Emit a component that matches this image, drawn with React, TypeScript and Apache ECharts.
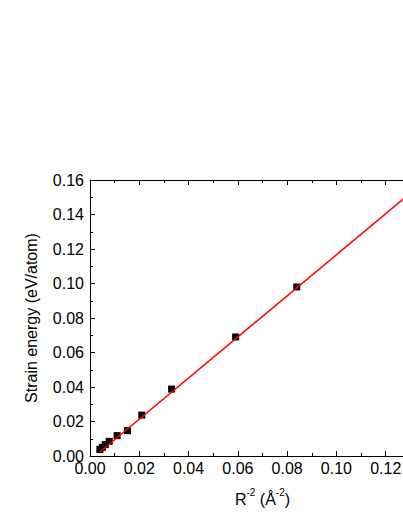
import React, { useEffect, useRef } from "react";
import * as echarts from "echarts";

const dataX = [0.004, 0.005, 0.0062, 0.0078, 0.011, 0.0152, 0.021, 0.0331, 0.0591, 0.0839];
const dataY = [0.0038, 0.005, 0.0066, 0.0085, 0.0118, 0.0147, 0.0237, 0.0388, 0.069, 0.098];
const fitX = [0.004, 0.14];
const fitY = [0.0023, 0.1643];

const xTicks = { min: 0, max: 0.14, interval: 0.02 };
const yTicks = { min: 0, max: 0.16, interval: 0.02 };

const FONT = "'Liberation Sans', Arial, sans-serif";

export default function App() {
  const ref = useRef<HTMLDivElement>(null);
  useEffect(() => {
    if (!ref.current) return;
    const chart = echarts.init(ref.current, undefined, { renderer: "svg" });
    const axisCommon = {
      axisLine: { show: true, onZero: false, lineStyle: { color: "#000", width: 1 } },
      axisTick: { show: true, inside: true, length: 5, lineStyle: { color: "#000" } },
      minorTick: { show: true, splitNumber: 2, length: 3, lineStyle: { color: "#000" } },
      splitLine: { show: false },
    };
    chart.setOption({
      animation: false,
      textStyle: { fontFamily: FONT },
      grid: { left: 90, top: 180, right: 25, bottom: 65 },
      xAxis: [
        {
          type: "value",
          position: "bottom",
          ...xTicks,
          ...axisCommon,
          axisLabel: {
            fontSize: 16,
            color: "#000",
            fontFamily: FONT,
            margin: 4,
            showMaxLabel: false,
            formatter: (v: number) => v.toFixed(2),
          },
          name: "{a|R}{s|-2}{a| (Å}{s|-2}{a|)}",
          nameLocation: "middle",
          nameGap: 31,
          nameTextStyle: {
            rich: {
              a: { fontSize: 16, color: "#000", fontFamily: FONT, lineHeight: 20, verticalAlign: "bottom" },
              s: { fontSize: 10, color: "#000", fontFamily: FONT, lineHeight: 20, verticalAlign: "top" },
            },
          },
        },
        {
          type: "value",
          position: "top",
          ...xTicks,
          ...axisCommon,
          axisLabel: { show: false },
        },
      ],
      yAxis: [
        {
          type: "value",
          ...yTicks,
          ...axisCommon,
          axisLabel: {
            fontSize: 16,
            color: "#000",
            fontFamily: FONT,
            margin: 6,
            formatter: (v: number) => v.toFixed(2),
          },
          name: "Strain energy (eV/atom)",
          nameLocation: "middle",
          nameRotate: 90,
          nameGap: 51,
          nameTextStyle: { fontSize: 16, color: "#000", fontFamily: FONT },
        },
      ],
      series: [
        {
          type: "line",
          data: fitX.map((x, i) => [x, fitY[i]]),
          showSymbol: false,
          symbol: "none",
          clip: true,
          lineStyle: { color: "#ff0000", width: 1.5 },
          z: 3,
        },
        {
          type: "scatter",
          data: dataX.map((x, i) => [x, dataY[i]]),
          symbol: "rect",
          symbolSize: 7,
          itemStyle: { color: "#000", opacity: 1 },
          z: 2,
        },
      ],
    });
    return () => chart.dispose();
  }, []);
  return (
    <div style={{ position: "fixed", left: 0, top: 0, width: 403, height: 521, overflow: "hidden", background: "#fff" }}>
      <div ref={ref} style={{ position: "absolute", left: 0, top: 0, width: 460, height: 521 }} />
    </div>
  );
}
